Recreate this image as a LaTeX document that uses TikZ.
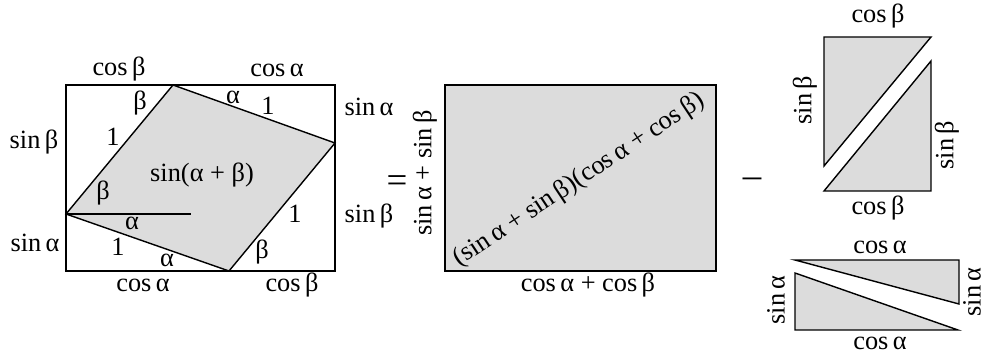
\documentclass[tikz,border=0pt]{standalone}
\usepackage{fontspec}
\setmainfont{Liberation Serif}
\definecolor{shade}{RGB}{220,220,220}

\begin{document}
\begin{tikzpicture}[
    x=0.02cm, y=-0.02cm,
    line width=0.8pt,
    lbl/.style={font=\fontsize{15}{18}\selectfont, inner sep=0pt},
    sign/.style={font=\fontsize{21}{24}\selectfont, inner sep=0pt},
    piece/.style={draw, fill=shade, line join=miter}
]
\useasboundingbox (0,0) rectangle (981,354);

% Rectangulo con rombo
\coordinate (nw) at (66,85);
\coordinate (se) at (335,271);
\coordinate (top) at (173,85);
\coordinate (rgt) at (335,143);
\coordinate (lft) at (66,214);
\coordinate (bot) at (229,271);
\coordinate (ref) at (191,214);

\draw[piece] (top) -- (rgt) -- (bot) -- (lft) -- cycle;
\draw (nw) rectangle (se);
\draw (lft) -- (ref);

% Lados
\node[lbl] (c1) at (119,69) {cos\,β};
\node[lbl] (c2) at (277,70) {cos\,α};
\node[lbl] (s1) at (34,142) {sin\,β};
\node[lbl] (s2) at (35,243) {sin\,α};
\node[lbl] (s3) at (369,107) {sin\,α};
\node[lbl] (s4) at (369,216) {sin\,β};
\node[lbl] (c3) at (143,285) {cos\,α};
\node[lbl] (c4) at (292,285) {cos\,β};

% Angulos y unos
\node[lbl] (b1) at (140,103) {β};
\node[lbl] (u1) at (113,137) {1};
\node[lbl] (a1) at (233,97) {α};
\node[lbl] (u2) at (268,106) {1};
\node[lbl] (area) at (202,175) {sin(α + β)};
\node[lbl] (b2) at (103,193) {β};
\node[lbl] (a2) at (132,223) {α};
\node[lbl] (u3) at (118,247) {1};
\node[lbl] (a3) at (167,260) {α};
\node[lbl] (u4) at (295,214) {1};
\node[lbl] (b3) at (262,252) {β};

% Igual
\node[sign] (eq) at (397,184) {=};

% Rectangulo grande
\coordinate (bignw) at (445,85);
\coordinate (bigse) at (716,271);
\draw[piece] (bignw) rectangle (bigse);
\node[lbl, rotate=33.5] (prod) at (579,180) {(sin\,α + sin\,β)(cos\,α + cos\,β)};
\node[lbl, rotate=90] (hgt) at (425,173) {sin\,α + sin\,β};
\node[lbl] (wid) at (588,285) {cos\,α + cos\,β};

% Menos
\node[sign] (minus) at (752,183) {–};

% Triangulos beta
\coordinate (p1) at (824,37);
\coordinate (p2) at (931,37);
\coordinate (p3) at (824,166);
\coordinate (q1) at (931,61);
\coordinate (q2) at (931,191);
\coordinate (q3) at (824,191);
\draw[piece] (p1) -- (p2) -- (p3) -- cycle;
\draw[piece] (q1) -- (q2) -- (q3) -- cycle;
\node[lbl] (cb1) at (878,16) {cos\,β};
\node[lbl, rotate=90] (sb1) at (805,100) {sin\,β};
\node[lbl, rotate=90] (sb2) at (947,145) {sin\,β};
\node[lbl] (cb2) at (878,208) {cos\,β};

% Triangulos alfa
\coordinate (r1) at (795,260);
\coordinate (r2) at (959,260);
\coordinate (r3) at (959,304);
\coordinate (t1) at (795,273);
\coordinate (t2) at (795,330);
\coordinate (t3) at (958,330);
\draw[piece] (r1) -- (r2) -- (r3) -- cycle;
\draw[piece] (t1) -- (t2) -- (t3) -- cycle;
\node[lbl] (ca1) at (880,247) {cos\,α};
\node[lbl, rotate=90] (sa1) at (776,300) {sin\,α};
\node[lbl, rotate=90] (sa2) at (972,292) {sin\,α};
\node[lbl] (ca2) at (880,343) {cos\,α};

\end{tikzpicture}
\end{document}
